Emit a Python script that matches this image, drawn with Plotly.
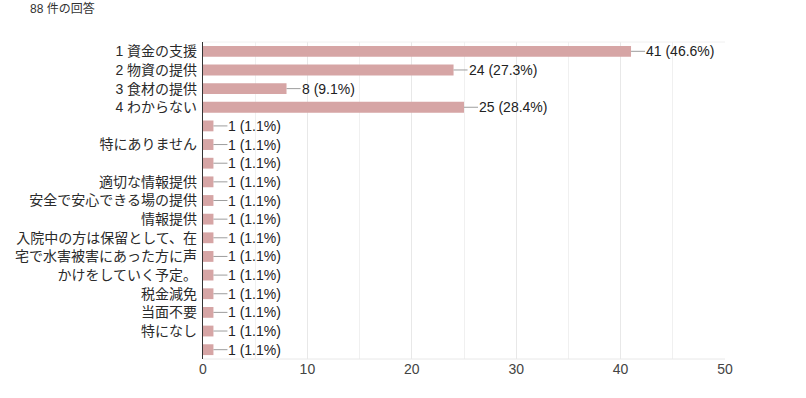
import plotly.graph_objects as go

labels = ["1 資金の支援", "2 物資の提供", "3 食材の提供", "4 わからない",
          "", "特にありません", "", "適切な情報提供", "安全で安心できる場の提供",
          "情報提供", "入院中の方は保留として、在", "宅で水害被害にあった方に声",
          "かけをしていく予定。", "税金減免", "当面不要", "特になし", ""]
counts = [41, 24, 8, 25, 1, 1, 1, 1, 1, 1, 1, 1, 1, 1, 1, 1, 1]
total = 88
x_ticks = [0, 10, 20, 30, 40, 50]

ypos = list(range(len(labels)))
font = "Liberation Sans, Arial, Noto Sans CJK JP, sans-serif"

fig = go.Figure(go.Bar(
    x=counts, y=ypos, orientation="h",
    marker=dict(color="#d6a5a5", line=dict(width=0)),
    width=0.58, hoverinfo="skip",
))

for yi, c in zip(ypos, counts):
    fig.add_annotation(
        x=c, y=yi, xref="x", yref="y",
        text=f"{c} ({c / total * 100:.1f}%)",
        showarrow=True, arrowhead=0, arrowwidth=1, arrowcolor="#9e9e9e",
        ax=14, ay=0, xanchor="left", yanchor="middle",
        borderpad=0, standoff=0,
        font=dict(family=font, size=14, color="#222222"),
    )

W, H = 806, 398
L, T = 203, 42
pw, ph = 522, 317
R, B = W - L - pw, H - T - ph
fig.add_annotation(
    x=(28 - L) / pw, y=1 + (T - 9) / ph, xref="paper", yref="paper",
    text="88 件の回答",
    showarrow=False, xanchor="left", yanchor="middle",
    font=dict(family=font, size=12, color="#333333"),
)

fig.update_layout(
    width=W, height=H,
    margin=dict(l=L, r=R, t=T, b=B),
    paper_bgcolor="white", plot_bgcolor="white",
    showlegend=False,
    font=dict(family=font, color="#333333"),
)
fig.update_xaxes(
    range=[0, 50], tickvals=x_ticks, ticktext=[str(t) for t in x_ticks],
    showgrid=True, gridcolor="#e8e8e8", gridwidth=1,
    minor=dict(dtick=5, tick0=0, showgrid=True, gridcolor="#f0f0f0"),
    zeroline=False, showline=False, ticks="", automargin=False,
    tickfont=dict(family=font, size=14, color="#444444"),
)
fig.update_yaxes(
    range=[len(labels) - 0.5, -0.5],
    tickvals=ypos, ticktext=labels,
    showgrid=False, zeroline=False, automargin=False,
    showline=True, linecolor="#333333", linewidth=1.2,
    ticks="", ticklabelstandoff=2,
    tickfont=dict(family=font, size=14, color="#2a2a2a"),
)
fig.add_shape(type="line", xref="paper", yref="paper", x0=0, x1=1, y0=1, y1=1,
              line=dict(color="#f0f0f0", width=1))
fig.add_shape(type="line", xref="paper", yref="paper", x0=0, x1=1, y0=0, y1=0,
              line=dict(color="#e8e8e8", width=1))

fig.write_html("out.html", config={"displayModeBar": False},
               post_script="document.body.style.margin='0';")
